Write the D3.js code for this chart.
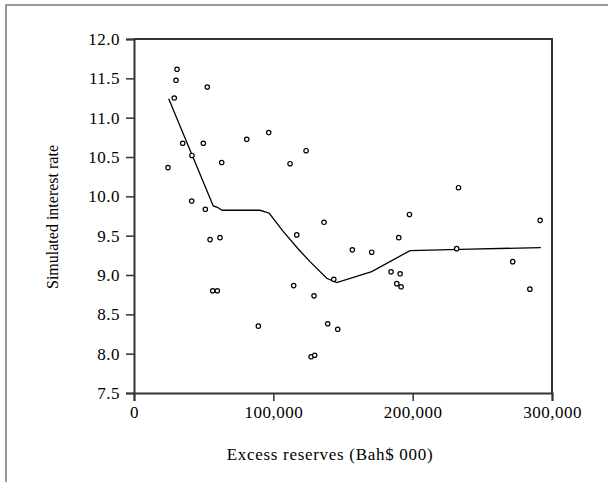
<!DOCTYPE html>
<html><head><meta charset="utf-8">
<script src="https://cdn.jsdelivr.net/npm/d3@7"></script>
<style>body{margin:0;background:#fff}svg{display:block}svg text{font-family:"Liberation Serif","Times New Roman",serif !important;fill:#000}</style>
</head><body><svg id="c" width="608" height="482"></svg>
<script>
const pointX = [24400,28900,30150,30870,34950,41400,41600,49760,51200,52600,54600,56500,59800,61700,62950,80900,89250,96700,112000,114600,116800,123500,127100,129200,129700,136400,139000,143400,146200,156700,170600,184500,188600,190000,191000,191700,197700,231600,232900,271800,284100,291500];
const pointY = [10.365,11.25,11.475,11.615,10.675,9.94,10.52,10.675,9.835,11.39,9.45,8.80,8.80,9.475,10.43,10.725,8.35,10.81,10.415,8.865,9.51,10.58,7.96,8.735,7.98,9.67,8.38,8.945,8.31,9.32,9.29,9.04,8.89,9.475,9.015,8.85,9.77,9.335,10.11,9.17,8.82,9.695];
const curveX = [24900,56900,59800,63200,90450,97100,107200,117900,126300,138300,145500,170600,198100,241200,291950];
const curveY = [11.24,9.878,9.861,9.823,9.823,9.785,9.551,9.33,9.17,8.959,8.903,9.043,9.31,9.33,9.348];
const xTicks = [0,100000,200000,300000];
const yTicks = [7.5,8.0,8.5,9.0,9.5,10.0,10.5,11.0,11.5,12.0];
const xTitle = "Excess reserves (Bah$ 000)";
const yTitle = "Simulated interest rate";

const svg = d3.select("#c");
svg.append("path").attr("d","M6,482V5H608").attr("fill","none").attr("stroke","#999").attr("stroke-width",2);

const L=134,R=552,T=39,B=393;
const x = d3.scaleLinear().domain([0,300000]).range([L,R]);
const y = d3.scaleLinear().domain([7.5,12]).range([B,T]);

const fmt = d3.format(",");
const gx = svg.append("g").attr("transform",`translate(0,${B})`)
  .call(d3.axisBottom(x).tickValues(xTicks).tickFormat(fmt).tickSize(8).tickPadding(5));
const gy = svg.append("g").attr("transform",`translate(${L},0)`)
  .call(d3.axisLeft(y).tickValues(yTicks).tickFormat(d3.format(".1f")).tickSize(8).tickPadding(6));
[gx,gy].forEach(g=>{
  g.attr("font-family",null).attr("font-size",null);
  g.selectAll("path").attr("stroke","#333").attr("stroke-width",2);
  g.selectAll("line").attr("stroke","#333").attr("stroke-width",1.5);
  g.selectAll("text").style("font-size","17px").style("letter-spacing","0.5px").style("fill","#000");
});
svg.append("path").attr("d",`M${L},${T}H${R}V${B}`).attr("fill","none").attr("stroke","#333").attr("stroke-width",2);

const pts = curveX.map((d,i)=>[x(d),y(curveY[i])]);
svg.append("path").attr("d",d3.line()(pts)).attr("fill","none").attr("stroke","#000").attr("stroke-width",1.3);

svg.append("g").selectAll("circle").data(pointX).join("circle")
  .attr("cx",d=>x(d)).attr("cy",(d,i)=>y(pointY[i])).attr("r",2.2)
  .attr("fill","#fff").attr("stroke","#000").attr("stroke-width",1.2);

svg.append("text").attr("x",330).attr("y",460).attr("text-anchor","middle").style("font-size","17px").style("letter-spacing","0.7px").text(xTitle);
svg.append("text").attr("transform","translate(58,217) rotate(-90)").attr("text-anchor","middle").style("font-size","16px").text(yTitle);
</script></body></html>
